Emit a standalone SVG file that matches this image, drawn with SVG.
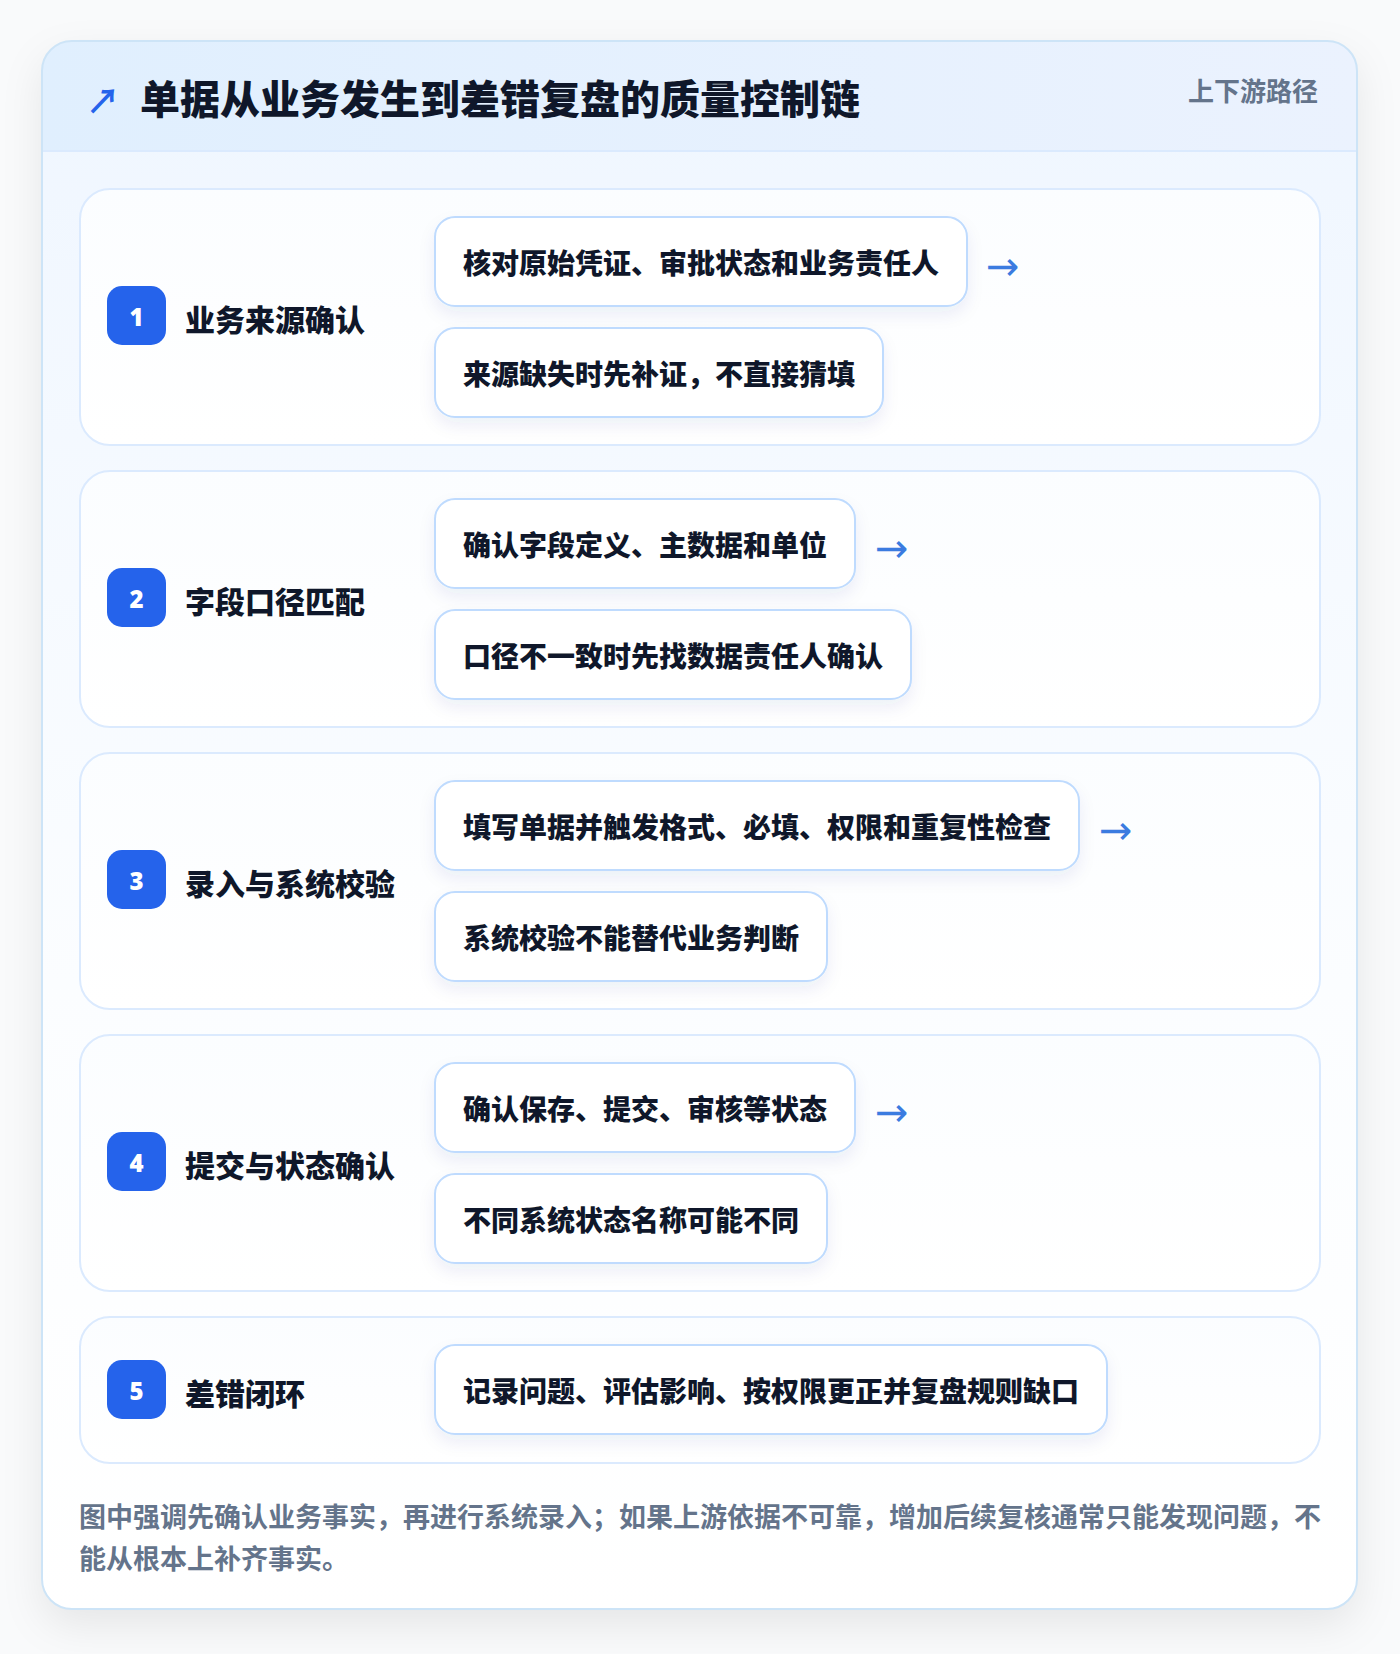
<svg xmlns="http://www.w3.org/2000/svg" width="1400" height="1654" viewBox="0 0 1400 1654">
<defs>
<style>
.cjk{font-family:"Noto Sans CJK SC","Noto Sans",sans-serif;}
.title{font-size:40px;font-weight:900;fill:#0f172a;}
.tag{font-size:26px;font-weight:700;fill:#64748b;}
.label{font-size:30px;font-weight:900;fill:#0f172a;}
.pilltxt{font-size:28px;font-weight:900;fill:#0f172a;}
.foot{font-size:27px;font-weight:700;fill:#64748b;}
.num{font-family:"Noto Sans","DejaVu Sans",sans-serif;font-size:24px;font-weight:900;fill:#ffffff;}
.step{fill:url(#stepGrad);stroke:#dbeafe;stroke-width:2;}
.pill{fill:#ffffff;stroke:#bfdbfe;stroke-width:2;filter:url(#pillShadow);}
.badge{fill:#2563eb;}
.arr{font-family:"DejaVu Sans",sans-serif;font-size:40px;fill:#3b7be0;}
</style>
<linearGradient id="cardGrad" x1="0" y1="0" x2="0" y2="1">
<stop offset="0" stop-color="#eff6ff"/>
<stop offset="0.6" stop-color="#fbfdff"/>
<stop offset="1" stop-color="#ffffff"/>
</linearGradient>
<linearGradient id="headGrad" x1="0" y1="0" x2="1" y2="0">
<stop offset="0" stop-color="#e0effe"/>
<stop offset="1" stop-color="#ebf2fe"/>
</linearGradient>
<linearGradient id="stepGrad" x1="0" y1="0" x2="0" y2="1">
<stop offset="0" stop-color="#fbfdff"/>
<stop offset="1" stop-color="#ffffff"/>
</linearGradient>
<filter id="cardShadow" x="-10%" y="-10%" width="120%" height="120%">
<feGaussianBlur in="SourceAlpha" stdDeviation="20"/>
<feOffset dy="16" result="b"/>
<feFlood flood-color="#0f172a" flood-opacity="0.08"/>
<feComposite in2="b" operator="in"/>
<feMerge><feMergeNode/><feMergeNode in="SourceGraphic"/></feMerge>
</filter>
<filter id="pillShadow" x="-10%" y="-30%" width="120%" height="170%">
<feGaussianBlur in="SourceAlpha" stdDeviation="8"/>
<feOffset dy="8" result="b"/>
<feFlood flood-color="#1e3a8a" flood-opacity="0.07"/>
<feComposite in2="b" operator="in"/>
<feMerge><feMergeNode/><feMergeNode in="SourceGraphic"/></feMerge>
</filter>
<clipPath id="cardClip"><rect x="42" y="41" width="1315" height="1568" rx="30"/></clipPath>
</defs>

<rect x="0" y="0" width="1400" height="1654" fill="#f9fafb"/>

<g id="card">
<rect x="42" y="41" width="1315" height="1568" rx="30" fill="url(#cardGrad)" filter="url(#cardShadow)"/>
<g clip-path="url(#cardClip)">
<rect x="42" y="41" width="1315" height="110" fill="url(#headGrad)"/>
<line x1="42" y1="151" x2="1357" y2="151" stroke="#dbeafe" stroke-width="2"/>
</g>
<rect x="42" y="41" width="1315" height="1568" rx="30" fill="none" stroke="#cde4f7" stroke-width="2"/>
</g>

<g id="header">
<text class="cjk" x="86" y="99" font-size="34" font-weight="700" fill="#2563eb" dominant-baseline="central">↗</text>
<text class="cjk title" x="140" y="97" dominant-baseline="central">单据从业务发生到差错复盘的质量控制链</text>
<text class="cjk tag" x="1318" y="89" text-anchor="end" dominant-baseline="central">上下游路径</text>
</g>

<g id="step1">
<rect class="step" x="80" y="189" width="1240" height="256" rx="30"/>
<rect class="badge" x="107" y="286" width="59" height="59" rx="15"/>
<text class="num" x="136.5" y="316" text-anchor="middle" dominant-baseline="central">1</text>
<text class="cjk label" x="185" y="318" dominant-baseline="central">业务来源确认</text>
<rect class="pill" x="435" y="217" width="532" height="89" rx="20"/>
<text class="cjk pilltxt" x="463" y="261.5" dominant-baseline="central">核对原始凭证、审批状态和业务责任人</text>
<rect class="pill" x="435" y="328" width="448" height="89" rx="20"/>
<text class="cjk pilltxt" x="463" y="372.5" dominant-baseline="central">来源缺失时先补证，不直接猜填</text>
</g>

<g id="step2">
<rect class="step" x="80" y="471" width="1240" height="256" rx="30"/>
<rect class="badge" x="107" y="568" width="59" height="59" rx="15"/>
<text class="num" x="136.5" y="598" text-anchor="middle" dominant-baseline="central">2</text>
<text class="cjk label" x="185" y="600" dominant-baseline="central">字段口径匹配</text>
<rect class="pill" x="435" y="499" width="420" height="89" rx="20"/>
<text class="cjk pilltxt" x="463" y="543.5" dominant-baseline="central">确认字段定义、主数据和单位</text>
<rect class="pill" x="435" y="610" width="476" height="89" rx="20"/>
<text class="cjk pilltxt" x="463" y="654.5" dominant-baseline="central">口径不一致时先找数据责任人确认</text>
</g>

<g id="step3">
<rect class="step" x="80" y="753" width="1240" height="256" rx="30"/>
<rect class="badge" x="107" y="850" width="59" height="59" rx="15"/>
<text class="num" x="136.5" y="880" text-anchor="middle" dominant-baseline="central">3</text>
<text class="cjk label" x="185" y="882" dominant-baseline="central">录入与系统校验</text>
<rect class="pill" x="435" y="781" width="644" height="89" rx="20"/>
<text class="cjk pilltxt" x="463" y="825.5" dominant-baseline="central">填写单据并触发格式、必填、权限和重复性检查</text>
<rect class="pill" x="435" y="892" width="392" height="89" rx="20"/>
<text class="cjk pilltxt" x="463" y="936.5" dominant-baseline="central">系统校验不能替代业务判断</text>
</g>

<g id="step4">
<rect class="step" x="80" y="1035" width="1240" height="256" rx="30"/>
<rect class="badge" x="107" y="1132" width="59" height="59" rx="15"/>
<text class="num" x="136.5" y="1162" text-anchor="middle" dominant-baseline="central">4</text>
<text class="cjk label" x="185" y="1164" dominant-baseline="central">提交与状态确认</text>
<rect class="pill" x="435" y="1063" width="420" height="89" rx="20"/>
<text class="cjk pilltxt" x="463" y="1107.5" dominant-baseline="central">确认保存、提交、审核等状态</text>
<rect class="pill" x="435" y="1174" width="392" height="89" rx="20"/>
<text class="cjk pilltxt" x="463" y="1218.5" dominant-baseline="central">不同系统状态名称可能不同</text>
</g>

<g id="step5">
<rect class="step" x="80" y="1317" width="1240" height="146" rx="30"/>
<rect class="badge" x="107" y="1360" width="59" height="59" rx="15"/>
<text class="num" x="136.5" y="1390" text-anchor="middle" dominant-baseline="central">5</text>
<text class="cjk label" x="185" y="1392" dominant-baseline="central">差错闭环</text>
<rect class="pill" x="435" y="1345" width="672" height="89" rx="20"/>
<text class="cjk pilltxt" x="463" y="1389.5" dominant-baseline="central">记录问题、评估影响、按权限更正并复盘规则缺口</text>
</g>

<g id="connectors">
<text class="arr" x="986" y="266" dominant-baseline="central">→</text>
<text class="arr" x="875" y="548" dominant-baseline="central">→</text>
<text class="arr" x="1099" y="830" dominant-baseline="central">→</text>
<text class="arr" x="875" y="1112" dominant-baseline="central">→</text>
</g>

<g id="footer">
<text class="cjk foot" x="79" y="1515" dominant-baseline="central">图中强调先确认业务事实，再进行系统录入；如果上游依据不可靠，增加后续复核通常只能发现问题，不</text>
<text class="cjk foot" x="79" y="1557" dominant-baseline="central">能从根本上补齐事实。</text>
</g>
</svg>
